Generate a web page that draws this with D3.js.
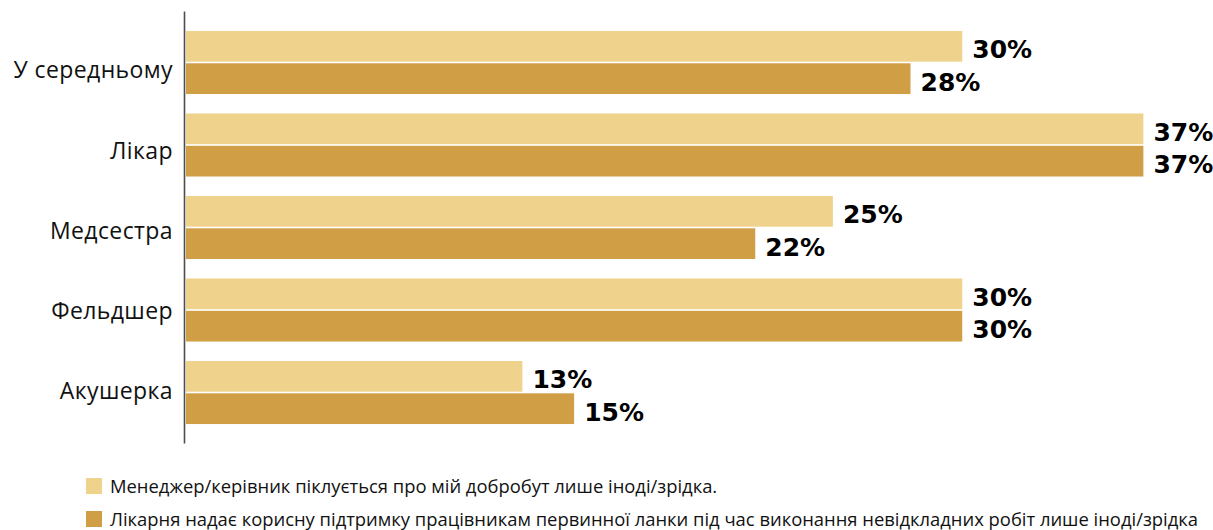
<!DOCTYPE html>
<html lang="uk">
<head>
<meta charset="utf-8">
<script src="https://cdn.jsdelivr.net/npm/d3@7"></script>
<style>
  html, body { margin: 0; padding: 0; background: #fff; }
  svg { display: block; }
</style>
</head>
<body>
<svg id="chart" width="1213" height="530"></svg>
<script>
// Categories (health worker roles)
const categories = ["У середньому", "Лікар", "Медсестра", "Фельдшер", "Акушерка"];

// Series names, as shown in the legend
const seriesNames = [
  "Менеджер/керівник піклується про мій добробут лише іноді/зрідка.",
  "Лікарня надає корисну підтримку працівникам первинної ланки під час виконання невідкладних робіт лише іноді/зрідка"
];

// Series values, percent
const managerCare = [30, 37, 25, 30, 13];
const hospitalSupport = [28, 37, 22, 30, 15];

const seriesColors = ["#EFD28B", "#CF9E45"];

const svg = d3.select("#chart");

const x = d3.scaleLinear().domain([0, 40]).range([186, 1221]);

const y = d3.scaleBand()
  .domain(categories)
  .range([11.5, 443.5])
  .paddingInner(0.236)
  .paddingOuter(0.236);

const ySub = d3.scaleBand()
  .domain([0, 1])
  .range([0, y.bandwidth()])
  .paddingInner(0.05);

// Category labels sit on their own evenly spaced positions
const yLabel = d3.scalePoint()
  .domain(categories)
  .range([70, 391]);

const rows = categories.map((c, i) => ({
  category: c,
  values: [managerCare[i], hospitalSupport[i]]
}));

const groups = svg.append("g")
  .selectAll("g")
  .data(rows)
  .join("g")
  .attr("transform", d => `translate(0,${y(d.category)})`);

groups.selectAll("rect")
  .data(d => d.values.map((v, k) => ({ v, k })))
  .join("rect")
  .attr("x", x(0))
  .attr("y", d => ySub(d.k))
  .attr("width", d => x(d.v) - x(0))
  .attr("height", ySub.bandwidth())
  .attr("fill", d => seriesColors[d.k]);

groups.selectAll("text.value")
  .data(d => d.values.map((v, k) => ({ v, k })))
  .join("text")
  .attr("class", "value")
  .attr("x", d => x(d.v) + 10)
  .attr("y", d => ySub(d.k) + ySub.bandwidth() / 2)
  .attr("dy", "0.48em")
  .attr("font-family", "'DejaVu Sans', sans-serif")
  .attr("font-weight", "bold")
  .attr("font-size", 25)
  .attr("fill", "#000")
  .text(d => d.v + "%");

// Category axis: plain vertical line with labels to the left
svg.append("line")
  .attr("x1", 184.5).attr("x2", 184.5)
  .attr("y1", y.range()[0]).attr("y2", y.range()[1])
  .attr("stroke", "#4d4d4d")
  .attr("stroke-width", 1.6);

svg.append("g")
  .selectAll("text")
  .data(categories)
  .join("text")
  .attr("x", 173)
  .attr("y", d => yLabel(d))
  .attr("dy", "0.36em")
  .attr("text-anchor", "end")
  .attr("font-family", "'Open Sans', sans-serif")
  .attr("font-size", 23)
  .attr("letter-spacing", 0.4)
  .attr("fill", "#111")
  .text(d => d);

// Legend
const legend = svg.append("g")
  .selectAll("g")
  .data(seriesNames)
  .join("g")
  .attr("transform", (d, i) => `translate(86,${478 + i * 33})`);

legend.append("rect")
  .attr("width", 16)
  .attr("height", 16)
  .attr("fill", (d, i) => seriesColors[i]);

legend.append("text")
  .attr("x", 24)
  .attr("y", 8)
  .attr("dy", "0.36em")
  .attr("font-family", "'Open Sans', sans-serif")
  .attr("font-size", 18.4)
  .attr("fill", "#111")
  .text(d => d);
</script>
</body>
</html>
